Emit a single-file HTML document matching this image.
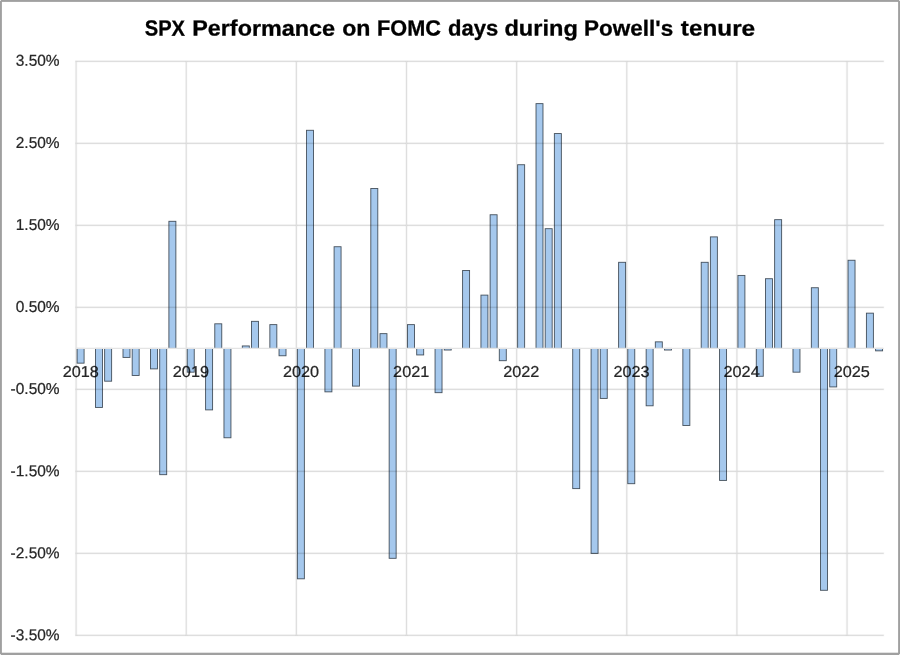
<!DOCTYPE html>
<html lang="en">
<head>
<meta charset="utf-8">
<title>SPX Performance on FOMC days during Powell's tenure</title>
<style>
html,body{margin:0;padding:0;background:#fff;}
body{width:900px;height:655px;overflow:hidden;position:relative;}
svg{position:absolute;left:0;top:0;display:block;}
text{font-family:"Liberation Sans",sans-serif;fill:#262626;text-rendering:geometricPrecision;}
.title{font-weight:bold;font-size:22px;fill:#000;stroke:#000;stroke-width:0.3px;}
.lab{font-size:15.8px;stroke:#262626;stroke-width:0.22px;}
</style>
</head>
<body>
<svg width="900" height="655" viewBox="0 0 900 655">
<rect x="0" y="0" width="900" height="655" fill="#ffffff"/>
<line x1="74.90" y1="61.40" x2="884.36" y2="61.40" stroke="#000" stroke-opacity="0.025" stroke-width="2.8"/>
<line x1="75.50" y1="61.40" x2="883.76" y2="61.40" stroke="#dedede" stroke-width="1.15"/>
<line x1="74.90" y1="143.40" x2="884.36" y2="143.40" stroke="#000" stroke-opacity="0.025" stroke-width="2.8"/>
<line x1="75.50" y1="143.40" x2="883.76" y2="143.40" stroke="#dedede" stroke-width="1.15"/>
<line x1="74.90" y1="225.40" x2="884.36" y2="225.40" stroke="#000" stroke-opacity="0.025" stroke-width="2.8"/>
<line x1="75.50" y1="225.40" x2="883.76" y2="225.40" stroke="#dedede" stroke-width="1.15"/>
<line x1="74.90" y1="307.40" x2="884.36" y2="307.40" stroke="#000" stroke-opacity="0.025" stroke-width="2.8"/>
<line x1="75.50" y1="307.40" x2="883.76" y2="307.40" stroke="#dedede" stroke-width="1.15"/>
<line x1="74.90" y1="389.40" x2="884.36" y2="389.40" stroke="#000" stroke-opacity="0.025" stroke-width="2.8"/>
<line x1="75.50" y1="389.40" x2="883.76" y2="389.40" stroke="#dedede" stroke-width="1.15"/>
<line x1="74.90" y1="471.40" x2="884.36" y2="471.40" stroke="#000" stroke-opacity="0.025" stroke-width="2.8"/>
<line x1="75.50" y1="471.40" x2="883.76" y2="471.40" stroke="#dedede" stroke-width="1.15"/>
<line x1="74.90" y1="553.40" x2="884.36" y2="553.40" stroke="#000" stroke-opacity="0.025" stroke-width="2.8"/>
<line x1="75.50" y1="553.40" x2="883.76" y2="553.40" stroke="#dedede" stroke-width="1.15"/>
<line x1="74.90" y1="635.40" x2="884.36" y2="635.40" stroke="#000" stroke-opacity="0.025" stroke-width="2.8"/>
<line x1="75.50" y1="635.40" x2="883.76" y2="635.40" stroke="#dedede" stroke-width="1.15"/>
<line x1="76.10" y1="60.80" x2="76.10" y2="636.00" stroke="#000" stroke-opacity="0.025" stroke-width="2.8"/>
<line x1="76.10" y1="61.40" x2="76.10" y2="635.40" stroke="#dedede" stroke-width="1.15"/>
<line x1="186.24" y1="60.80" x2="186.24" y2="636.00" stroke="#000" stroke-opacity="0.025" stroke-width="2.8"/>
<line x1="186.24" y1="61.40" x2="186.24" y2="635.40" stroke="#dedede" stroke-width="1.15"/>
<line x1="296.37" y1="60.80" x2="296.37" y2="636.00" stroke="#000" stroke-opacity="0.025" stroke-width="2.8"/>
<line x1="296.37" y1="61.40" x2="296.37" y2="635.40" stroke="#dedede" stroke-width="1.15"/>
<line x1="406.51" y1="60.80" x2="406.51" y2="636.00" stroke="#000" stroke-opacity="0.025" stroke-width="2.8"/>
<line x1="406.51" y1="61.40" x2="406.51" y2="635.40" stroke="#dedede" stroke-width="1.15"/>
<line x1="516.64" y1="60.80" x2="516.64" y2="636.00" stroke="#000" stroke-opacity="0.025" stroke-width="2.8"/>
<line x1="516.64" y1="61.40" x2="516.64" y2="635.40" stroke="#dedede" stroke-width="1.15"/>
<line x1="626.78" y1="60.80" x2="626.78" y2="636.00" stroke="#000" stroke-opacity="0.025" stroke-width="2.8"/>
<line x1="626.78" y1="61.40" x2="626.78" y2="635.40" stroke="#dedede" stroke-width="1.15"/>
<line x1="736.92" y1="60.80" x2="736.92" y2="636.00" stroke="#000" stroke-opacity="0.025" stroke-width="2.8"/>
<line x1="736.92" y1="61.40" x2="736.92" y2="635.40" stroke="#dedede" stroke-width="1.15"/>
<line x1="847.05" y1="60.80" x2="847.05" y2="636.00" stroke="#000" stroke-opacity="0.025" stroke-width="2.8"/>
<line x1="847.05" y1="61.40" x2="847.05" y2="635.40" stroke="#dedede" stroke-width="1.15"/>
<text class="lab" transform="matrix(1.029,0.0005,0,1,80.79,377.0)" x="0" y="0" text-anchor="middle">2018</text>
<text class="lab" transform="matrix(1.029,0.0005,0,1,190.92,377.0)" x="0" y="0" text-anchor="middle">2019</text>
<text class="lab" transform="matrix(1.029,0.0005,0,1,301.06,377.0)" x="0" y="0" text-anchor="middle">2020</text>
<text class="lab" transform="matrix(1.029,0.0005,0,1,411.20,377.0)" x="0" y="0" text-anchor="middle">2021</text>
<text class="lab" transform="matrix(1.029,0.0005,0,1,521.33,377.0)" x="0" y="0" text-anchor="middle">2022</text>
<text class="lab" transform="matrix(1.029,0.0005,0,1,631.47,377.0)" x="0" y="0" text-anchor="middle">2023</text>
<text class="lab" transform="matrix(1.029,0.0005,0,1,741.61,377.0)" x="0" y="0" text-anchor="middle">2024</text>
<text class="lab" transform="matrix(1.029,0.0005,0,1,851.74,377.0)" x="0" y="0" text-anchor="middle">2025</text>
<g style="mix-blend-mode:multiply" fill="#a5c8ed" stroke="rgba(30,40,50,0.78)" stroke-width="0.9">
<rect x="77.10" y="348.40" width="7.00" height="14.76"/>
<rect x="95.46" y="348.40" width="7.00" height="59.04"/>
<rect x="104.63" y="348.40" width="7.00" height="32.80"/>
<rect x="122.99" y="348.40" width="7.00" height="9.02"/>
<rect x="132.17" y="348.40" width="7.00" height="27.06"/>
<rect x="150.52" y="348.40" width="7.00" height="20.50"/>
<rect x="159.70" y="348.40" width="7.00" height="126.28"/>
<rect x="168.88" y="221.30" width="7.00" height="127.10"/>
<rect x="187.24" y="348.40" width="7.00" height="23.78"/>
<rect x="205.59" y="348.40" width="7.00" height="61.50"/>
<rect x="214.77" y="323.80" width="7.00" height="24.60"/>
<rect x="223.95" y="348.40" width="7.00" height="89.38"/>
<rect x="242.30" y="345.94" width="7.00" height="2.46"/>
<rect x="251.48" y="321.34" width="7.00" height="27.06"/>
<rect x="269.84" y="324.62" width="7.00" height="23.78"/>
<rect x="279.02" y="348.40" width="7.00" height="7.38"/>
<rect x="297.37" y="348.40" width="7.00" height="230.42"/>
<rect x="306.55" y="130.28" width="7.00" height="218.12"/>
<rect x="324.91" y="348.40" width="7.00" height="43.46"/>
<rect x="334.08" y="246.72" width="7.00" height="101.68"/>
<rect x="352.44" y="348.40" width="7.00" height="37.72"/>
<rect x="370.80" y="188.50" width="7.00" height="159.90"/>
<rect x="379.97" y="333.64" width="7.00" height="14.76"/>
<rect x="389.15" y="348.40" width="7.00" height="209.92"/>
<rect x="407.51" y="324.62" width="7.00" height="23.78"/>
<rect x="416.69" y="348.40" width="7.00" height="6.56"/>
<rect x="435.04" y="348.40" width="7.00" height="44.28"/>
<rect x="444.22" y="348.40" width="7.00" height="1.64"/>
<rect x="462.58" y="270.50" width="7.00" height="77.90"/>
<rect x="480.93" y="295.10" width="7.00" height="53.30"/>
<rect x="490.11" y="214.74" width="7.00" height="133.66"/>
<rect x="499.29" y="348.40" width="7.00" height="12.30"/>
<rect x="517.64" y="164.72" width="7.00" height="183.68"/>
<rect x="536.00" y="103.63" width="7.00" height="244.77"/>
<rect x="545.18" y="228.68" width="7.00" height="119.72"/>
<rect x="554.36" y="133.56" width="7.00" height="214.84"/>
<rect x="572.71" y="348.40" width="7.00" height="140.22"/>
<rect x="591.07" y="348.40" width="7.00" height="205.00"/>
<rect x="600.25" y="348.40" width="7.00" height="50.02"/>
<rect x="618.60" y="262.30" width="7.00" height="86.10"/>
<rect x="627.78" y="348.40" width="7.00" height="135.30"/>
<rect x="646.14" y="348.40" width="7.00" height="57.40"/>
<rect x="655.31" y="341.84" width="7.00" height="6.56"/>
<rect x="664.49" y="348.40" width="7.00" height="1.64"/>
<rect x="682.85" y="348.40" width="7.00" height="77.08"/>
<rect x="701.20" y="262.30" width="7.00" height="86.10"/>
<rect x="710.38" y="236.88" width="7.00" height="111.52"/>
<rect x="719.56" y="348.40" width="7.00" height="132.02"/>
<rect x="737.92" y="275.42" width="7.00" height="72.98"/>
<rect x="756.27" y="348.40" width="7.00" height="27.88"/>
<rect x="765.45" y="278.70" width="7.00" height="69.70"/>
<rect x="774.63" y="219.66" width="7.00" height="128.74"/>
<rect x="792.98" y="348.40" width="7.00" height="23.78"/>
<rect x="811.34" y="287.72" width="7.00" height="60.68"/>
<rect x="820.52" y="348.40" width="7.00" height="241.90"/>
<rect x="829.70" y="348.40" width="7.00" height="38.54"/>
<rect x="848.05" y="260.25" width="7.00" height="88.15"/>
<rect x="866.41" y="313.14" width="7.00" height="35.26"/>
<rect x="875.59" y="348.40" width="7.00" height="2.46"/>
</g>
<line x1="75.50" y1="348.40" x2="883.76" y2="348.40" stroke="#e4e4e4" stroke-width="1.2"/>
<text class="lab" transform="matrix(0.979,0.0005,0,1,59.6,65.85)" x="0" y="0" text-anchor="end">3.50%</text>
<text class="lab" transform="matrix(0.979,0.0005,0,1,59.6,147.92)" x="0" y="0" text-anchor="end">2.50%</text>
<text class="lab" transform="matrix(0.979,0.0005,0,1,59.6,229.99)" x="0" y="0" text-anchor="end">1.50%</text>
<text class="lab" transform="matrix(0.979,0.0005,0,1,59.6,312.06)" x="0" y="0" text-anchor="end">0.50%</text>
<text class="lab" transform="matrix(0.979,0.0005,0,1,59.6,394.13)" x="0" y="0" text-anchor="end">-0.50%</text>
<text class="lab" transform="matrix(0.979,0.0005,0,1,59.6,476.20)" x="0" y="0" text-anchor="end">-1.50%</text>
<text class="lab" transform="matrix(0.979,0.0005,0,1,59.6,558.27)" x="0" y="0" text-anchor="end">-2.50%</text>
<text class="lab" transform="matrix(0.979,0.0005,0,1,59.6,640.34)" x="0" y="0" text-anchor="end">-3.50%</text>
<text class="title" transform="matrix(1,0.001,0,1,144.72,35.6)" x="0" y="0" textLength="40.29" lengthAdjust="spacingAndGlyphs">SPX</text>
<text class="title" transform="matrix(1,0.0005,0,1,192.18,35.6)" x="0" y="0" textLength="142.94" lengthAdjust="spacingAndGlyphs">Performance</text>
<text class="title" transform="matrix(1,0.0005,0,1,342.18,35.6)" x="0" y="0" textLength="28.31" lengthAdjust="spacingAndGlyphs">on</text>
<text class="title" transform="matrix(1,0.0005,0,1,377.02,35.6)" x="0" y="0" textLength="63.89" lengthAdjust="spacingAndGlyphs">FOMC</text>
<text class="title" transform="matrix(1,0.0005,0,1,448.01,35.6)" x="0" y="0" textLength="50.32" lengthAdjust="spacingAndGlyphs">days</text>
<text class="title" transform="matrix(1,0.0005,0,1,504.41,35.6)" x="0" y="0" textLength="73.44" lengthAdjust="spacingAndGlyphs">during</text>
<text class="title" transform="matrix(1,0.0005,0,1,584.06,35.6)" x="0" y="0" textLength="89.14" lengthAdjust="spacingAndGlyphs">Powell's</text>
<text class="title" transform="matrix(1,0.0005,0,1,680.84,35.6)" x="0" y="0" textLength="74.32" lengthAdjust="spacingAndGlyphs">tenure</text>
<rect x="0" y="0" width="900" height="1.9" fill="#a0a0a0"/>
<rect x="0" y="0" width="1.9" height="655" fill="#a0a0a0"/>
<rect x="898.1" y="0" width="1.9" height="655" fill="#a0a0a0"/>
<rect x="0" y="652.7" width="900" height="2.3" fill="#a0a0a0"/>
<rect x="0" y="0" width="1" height="1" fill="#e6e6e6"/>
<rect x="899" y="0" width="1" height="1" fill="#e6e6e6"/>
<rect x="0" y="654" width="1" height="1" fill="#e6e6e6"/>
<rect x="899" y="654" width="1" height="1" fill="#e6e6e6"/>
</svg>
</body>
</html>
